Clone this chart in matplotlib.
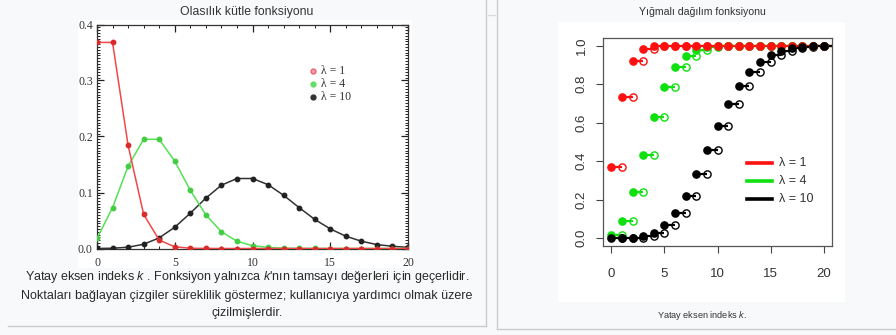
import matplotlib

matplotlib.use("Agg")

import matplotlib.pyplot as plt
from matplotlib.lines import Line2D
from matplotlib.patches import Rectangle
from matplotlib.ticker import MultipleLocator

W, H = 896, 335

# values (Poisson pmf / cdf for three lambdas)
k_values = list(range(21))
lambda_labels = ["λ = 1", "λ = 4", "λ = 10"]

pmf_l1 = [0.368, 0.368, 0.184, 0.061, 0.015, 0.003, 0.0005, 0.0001, 0, 0, 0,
          0, 0, 0, 0, 0, 0, 0, 0, 0, 0]
pmf_l4 = [0.018, 0.073, 0.147, 0.195, 0.195, 0.156, 0.104, 0.060, 0.030, 0.013,
          0.005, 0.002, 0.0006, 0.0002, 0.0001, 0, 0, 0, 0, 0, 0]
pmf_l10 = [0.00005, 0.0005, 0.0023, 0.0076, 0.019, 0.038, 0.063, 0.090, 0.113,
           0.125, 0.125, 0.114, 0.095, 0.073, 0.052, 0.035, 0.022, 0.013,
           0.007, 0.004, 0.002]

cdf_l1 = [0.368, 0.736, 0.920, 0.981, 0.996, 0.999, 1.0, 1.0, 1.0, 1.0, 1.0,
          1.0, 1.0, 1.0, 1.0, 1.0, 1.0, 1.0, 1.0, 1.0, 1.0]
cdf_l4 = [0.018, 0.092, 0.238, 0.433, 0.629, 0.785, 0.889, 0.949, 0.979, 0.992,
          0.997, 0.999, 1.0, 1.0, 1.0, 1.0, 1.0, 1.0, 1.0, 1.0, 1.0]
cdf_l10 = [0.00005, 0.0005, 0.0028, 0.0103, 0.029, 0.067, 0.130, 0.220, 0.333,
           0.458, 0.583, 0.697, 0.792, 0.864, 0.917, 0.951, 0.973, 0.986,
           0.993, 0.997, 0.998]

plt.rcParams["mathtext.fontset"] = "custom"
plt.rcParams["mathtext.rm"] = "Liberation Sans"
plt.rcParams["mathtext.it"] = "Liberation Sans:italic"


def fx(px):
    return px / W


def fy(py):
    return 1 - py / H


def rect(fig, x0, y0, x1, y1, color):
    fig.patches.append(Rectangle((fx(x0), fy(y1)), fx(x1 - x0), (y1 - y0) / H,
                                 transform=fig.transFigure, facecolor=color,
                                 edgecolor="none", zorder=-10))


def line(fig, xs, ys, color="#c8ccd1", lw=1.0):
    fig.lines.append(Line2D([fx(x) for x in xs], [fy(y) for y in ys],
                            transform=fig.transFigure, color=color, lw=lw,
                            zorder=-5))


fig = plt.figure(figsize=(W / 100, H / 100), dpi=100, facecolor="#f8f9fa")

# page frames and image backgrounds
rect(fig, 78, 20, 412, 268, "white")
rect(fig, 558, 22, 845, 302, "white")
line(fig, [8, 486], [325.5, 325.5])
line(fig, [486, 486], [0, 325.5])
line(fig, [497, 497], [0, 328.5])
line(fig, [497, 896], [328.5, 328.5])
line(fig, [488, 495], [15, 15], color="#d8dbe0")

# ---- left: probability mass function
ax1 = fig.add_axes([fx(97), fy(248.5), fx(311), 224 / H])
series_pmf = [(pmf_l10, "#333333", "#222222"),
              (pmf_l4, "#55e055", "#44cc44"),
              (pmf_l1, "#f04848", "#d82c2c")]
for vals, lc, mc in series_pmf:
    ax1.plot(k_values, vals, color=lc, lw=1.1, marker="o", ms=3.2,
             mfc=mc, mec=mc, zorder=3)
ax1.set_xlim(0, 20)
ax1.set_ylim(0, 0.4)
ax1.xaxis.set_major_locator(MultipleLocator(5))
ax1.xaxis.set_minor_locator(MultipleLocator(1))
ax1.yaxis.set_major_locator(MultipleLocator(0.1))
ax1.yaxis.set_minor_locator(MultipleLocator(0.005))
ax1.tick_params(which="both", direction="in", top=True, right=True,
                colors="#222222")
ax1.tick_params(which="major", length=5, width=0.9, labelsize=8.5, pad=6,
                labelcolor="#333333")
ax1.tick_params(which="minor", length=2.5, width=0.7)
ax1.tick_params(axis="y", pad=3)
ax1.yaxis.set_major_formatter(lambda v, p: f"{v:.1f}")
for lab in ax1.get_xticklabels() + ax1.get_yticklabels():
    lab.set_fontfamily("Liberation Serif")
for sp in ax1.spines.values():
    sp.set_color("#333333")
    sp.set_linewidth(0.9)

# legend drawn as marker + text, like the original
legend_left = [("#f06070", "#f8a0a8", 71), ("#66dd66", "#66dd66", 84),
               ("#333333", "#333333", 97)]
for (ec, fc, ypx), lab in zip(legend_left, lambda_labels):
    fig.lines.append(Line2D([fx(313)], [fy(ypx)], transform=fig.transFigure,
                            marker="o", ms=3.5, mec=ec, mfc=fc, ls="none"))
    fig.text(fx(321), fy(ypx), lab, fontsize=8.5, family="Liberation Serif",
             color="#333333", va="center", ha="left")

fig.text(fx(247), fy(12), "Olasılık kütle fonksiyonu", fontsize=8.8,
         family="Liberation Sans", color="#333333", ha="center", va="center")
caption_left = ["Yatay eksen indeks $k$ . Fonksiyon yalnızca $k$'nın tamsayı değerleri için geçerlidir.",
                "Noktaları bağlayan çizgiler süreklilik göstermez; kullanıcıya yardımcı olmak üzere",
                "çizilmişlerdir."]
for txt, ypx in zip(caption_left, [277, 296, 313]):
    fig.text(fx(247), fy(ypx), txt, fontsize=9, family="Liberation Sans",
             color="#2a2a2a", ha="center", va="center")

# ---- right: cumulative distribution function
ax2 = fig.add_axes([fx(603), fy(246), fx(229), 208 / H])
series_cdf = [(cdf_l4, "#10e010"), (cdf_l1, "#ff1010"), (cdf_l10, "black")]
for vals, c in series_cdf:
    for i in range(len(k_values) - 1):
        ax2.plot([k_values[i], k_values[i + 1]], [vals[i], vals[i]], color=c,
                 lw=1.6, solid_capstyle="butt", zorder=2)
    ax2.plot([k_values[-1], 21], [vals[-1], vals[-1]], color=c, lw=1.6, zorder=2)
    ax2.plot(k_values[1:], vals[:-1], ls="none", marker="o", ms=5.2, mfc="none",
             mec=c, mew=1.0, zorder=3)
    ax2.plot(k_values, vals, ls="none", marker="o", ms=5.2, mfc=c, mec=c, zorder=4)
ax2.set_xlim(-0.8, 20.8)
ax2.set_ylim(-0.04, 1.04)
ax2.set_xticks([0, 5, 10, 15, 20])
ax2.set_yticks([0.0, 0.2, 0.4, 0.6, 0.8, 1.0])
ax2.yaxis.set_major_formatter(lambda v, p: f"{v:.1f}")
ax2.tick_params(direction="out", length=5, width=0.8, colors="#444444",
                labelsize=9.5, labelcolor="#333333")
ax2.tick_params(axis="x", pad=11)
ax2.tick_params(axis="y", pad=6)
for lab in ax2.get_yticklabels():
    lab.set_rotation(90)
    lab.set_va("center")
for lab in ax2.get_xticklabels() + ax2.get_yticklabels():
    lab.set_fontfamily("Liberation Sans")
for sp in ax2.spines.values():
    sp.set_color("#555555")
    sp.set_linewidth(0.9)

legend_right = [("#ff1010", 163), ("#10e010", 181), ("black", 199)]
for (c, ypx), lab in zip(legend_right, lambda_labels):
    fig.lines.append(Line2D([fx(747), fx(772)], [fy(ypx), fy(ypx)],
                            transform=fig.transFigure, color=c, lw=2.6))
    fig.text(fx(779), fy(ypx), lab, fontsize=9,
             family="Liberation Sans", color="#333333", ha="left", va="center")

fig.text(fx(702), fy(12), "Yığmalı dağılım fonksiyonu", fontsize=7.6,
         family="Liberation Sans", color="#333333", ha="center", va="center")
fig.text(fx(702), fy(315), "Yatay eksen indeks $k$.", fontsize=6.6,
         family="Liberation Sans", color="#333333", ha="center", va="center")

fig.savefig("out.png", dpi=100, facecolor=fig.get_facecolor())
plt.close(fig)
